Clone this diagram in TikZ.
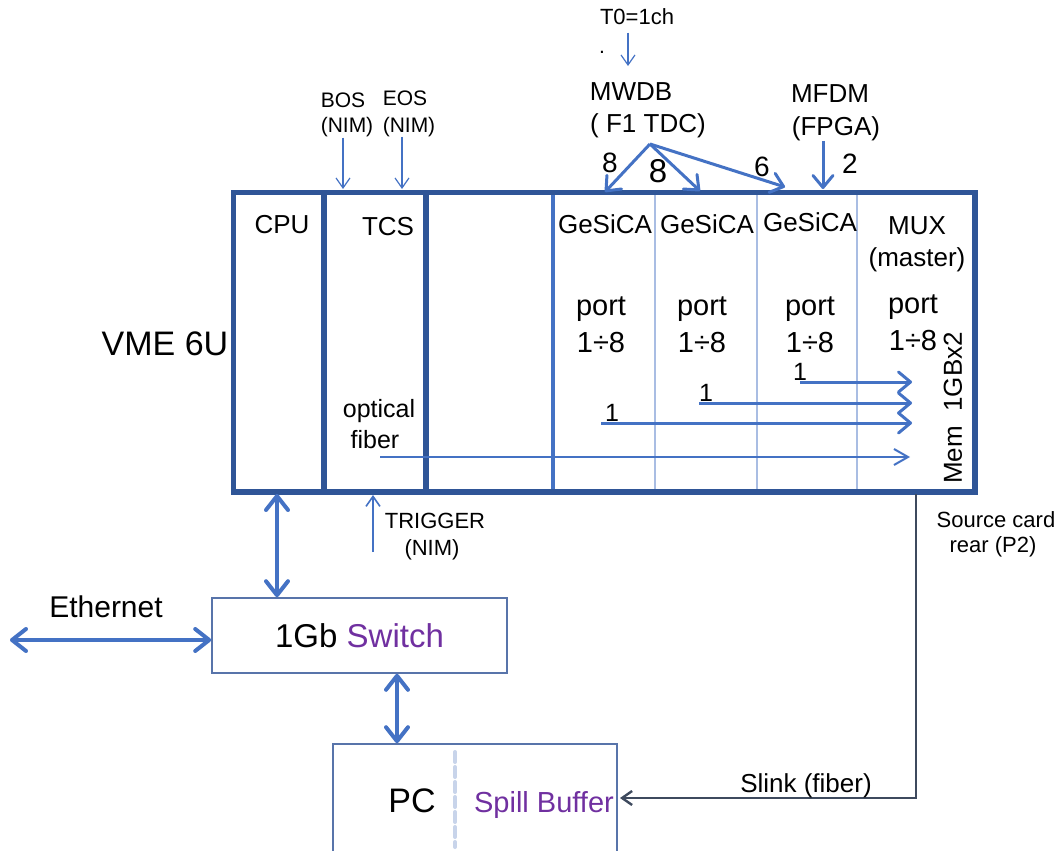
\documentclass[tikz,border=0pt]{standalone}
\usepackage{fontspec}
\setmainfont{Liberation Sans}
\usetikzlibrary{arrows.meta,positioning,calc}
\definecolor{Crate}{HTML}{2F5597}
\definecolor{Wire}{HTML}{4472C4}
\definecolor{Slot}{HTML}{A9BDE3}
\definecolor{Dash}{HTML}{C8D4EA}
\definecolor{Slate}{HTML}{3E4A5E}
\definecolor{Purple}{HTML}{7030A0}
\definecolor{Frame}{HTML}{5874AA}
\newcommand{\fsz}[1]{\fontsize{#1pt}{#1pt}\selectfont}

\begin{document}
\begin{tikzpicture}[x=0.5pt,y=-0.5pt,
  txt/.style={inner sep=0pt,anchor=base,font=\fsz{13}},
  smalltxt/.style={txt,font=\fsz{10.5}},
  frame/.style={draw=Frame,line width=0.8pt,inner sep=0pt},
  thinarrow/.style={draw=Wire,line width=0.6pt,-{Straight Barb[length=5pt,width=7pt]}},
  busarrow/.style={draw=Wire,line width=1.5pt,-{Straight Barb[length=6pt,width=10pt,round]}},
  fiberarrow/.style={draw=Wire,line width=1pt,-{Straight Barb[length=7pt,width=8pt]}},
  linkarrow/.style={draw=Wire,line width=2pt,{Straight Barb[length=7pt,width=11pt,round]}-{Straight Barb[length=7pt,width=11pt,round]}},
  slinkarrow/.style={draw=Slate,line width=1.2pt,-{Straight Barb[length=5pt,width=7pt]}}]
\path[use as bounding box] (0,0) rectangle (1062,851);

% crate and slots
\foreach \x in {655,757,857} \draw[Slot,line width=0.6pt] (\x,195) -- (\x,490);
\draw[Wire,line width=1.6pt] (553,195) -- (553,492);
\foreach \x in {324,426} \draw[Crate,line width=2.6pt] (\x,192) -- (\x,492);
\draw[Crate,line width=2.8pt] (233.5,192.5) rectangle (975,492);

\node[txt,font=\fsz{17}] (vme) at (165,355) {VME 6U};
\node[txt] (cpu) at (282,233) {CPU};
\node[txt] (tcs) at (388,235) {TCS};
\foreach \x/\y [count=\i] in {605/233,707/233,810/231}
  \node[txt] (gesica\i) at (\x,\y) {GeSiCA};
\node[txt] (mux) at (917,234) {MUX};
\node[txt] (master) at (917,266) {(master)};
\foreach \x/\y [count=\i] in {601/315,702/315,810/315,913/313}{
  \node[txt,font=\fsz{14.5}] (port\i) at (\x,\y) {port};
  \node[txt,font=\fsz{14.5}] (range\i) at (\x,\y+37) {1÷8};
}
\node[txt,rotate=90,anchor=center] (mem) at (953,408) {Mem\ \ 1GBx2};

% links into the mux
\foreach \x/\lx/\y [count=\i] in {800/800/382,699/706/403,601/612/423}{
  \node[txt,font=\fsz{12.5}] (one\i) at (\lx,\y-2) {1};
  \coordinate (src\i) at (\x,\y);
  \coordinate (muxin\i) at (912,\y);
  \draw[busarrow] (src\i) -- (muxin\i);
}
\node[txt,font=\fsz{12.5}] (optical) at (379,417) {optical};
\node[txt,font=\fsz{12.5}] (fiber) at (375,448) {fiber};
\coordinate (fiberout) at (380,457);
\coordinate (fiberin) at (910,457);
\draw[fiberarrow] (fiberout) -- (fiberin);

% inputs on top
\node[smalltxt] (bos) at (343,107) {BOS};
\node[smalltxt] (bosnim) at (347,133) {(NIM)};
\node[smalltxt] (eos) at (405,105) {EOS};
\node[smalltxt] (eosnim) at (409,132) {(NIM)};
\coordinate (bosin) at (343,189);
\coordinate (eosin) at (402,189);
\draw[thinarrow] (bosnim.south -| bosin) -- (bosin);
\draw[thinarrow] (eosnim.south -| eosin) -- (eosin);

\node[smalltxt,font=\fsz{11}] (t0) at (637,25) {T0=1ch};
\node[smalltxt] (stray) at (602,54) {.};
\coordinate (t0in) at (628,66);
\draw[thinarrow] ($(t0.south -| t0in)+(0,7)$) -- (t0in);

\node[txt] (mwdb) at (631,100) {MWDB};
\node[txt] (f1tdc) at (648,133) {( F1 TDC)};
\coordinate (fan) at (650,144);
\foreach \x/\y [count=\i] in {605/192,700/191,785/187}{
  \coordinate (tdcin\i) at (\x,\y);
  \draw[busarrow] (fan) -- (tdcin\i);
}
\node[txt,font=\fsz{14}] (n8a) at (610,172) {8};
\node[txt,font=\fsz{16.5}] (n8b) at (658,182) {8};
\node[txt,font=\fsz{14}] (n6) at (762,176) {6};

\node[txt] (mfdm) at (830,102) {MFDM};
\node[txt] (fpga) at (836,135) {(FPGA)};
\coordinate (mfdmin) at (823,189);
\draw[busarrow] (fpga.south -| mfdmin) -- (mfdmin);
\node[txt,font=\fsz{14}] (n2) at (850,173) {2};

% switch and pc
\node[frame,minimum width=147.5pt,minimum height=37.5pt,font=\fsz{16.5}] (switch) at (359.5,635.5) {1Gb \textcolor{Purple}{Switch}};
\node[txt,font=\fsz{15}] (ethernet) at (106,617) {Ethernet};
\coordinate (lan) at (10,640);
\draw[linkarrow] (lan) -- (lan -| switch.west);
\coordinate (cpuout) at (277,494);
\draw[linkarrow] (cpuout) -- (cpuout |- switch.north);

\begin{scope}
\clip (0,0) rectangle (1062,851);
\node[frame,minimum width=142pt,minimum height=70pt] (pc) at (475,814) {};
\end{scope}
\coordinate (pcx) at (397,0);
\draw[linkarrow] (switch.south -| pcx) -- (pc.north -| pcx);
\node[txt,font=\fsz{17}] (pclbl) at (412,812) {PC};
\draw[Dash,line width=2pt,line cap=round,dash pattern=on 5pt off 2.5pt] (455,752) -- (455,847);
\node[txt,font=\fsz{14.5},text=Purple] (spill) at (544,812) {Spill Buffer};

% trigger and readout
\node[smalltxt,font=\fsz{11}] (trigger) at (435,528) {TRIGGER};
\node[smalltxt,font=\fsz{11}] (trignim) at (432,555) {(NIM)};
\coordinate (trigout) at (373,552);
\coordinate (trigin) at (373,495);
\draw[thinarrow,line width=0.8pt] (trigout) -- (trigin);

\node[smalltxt,font=\fsz{11}] (source) at (996,527) {Source card};
\node[smalltxt,font=\fsz{11}] (rear) at (993,552) {rear (P2)};
\coordinate (p2) at (916,494);
\coordinate (slinkin) at (620,798);
\draw[slinkarrow] (p2) |- (slinkin);
\node[txt] (slink) at (806,792) {Slink (fiber)};
\end{tikzpicture}
\end{document}
